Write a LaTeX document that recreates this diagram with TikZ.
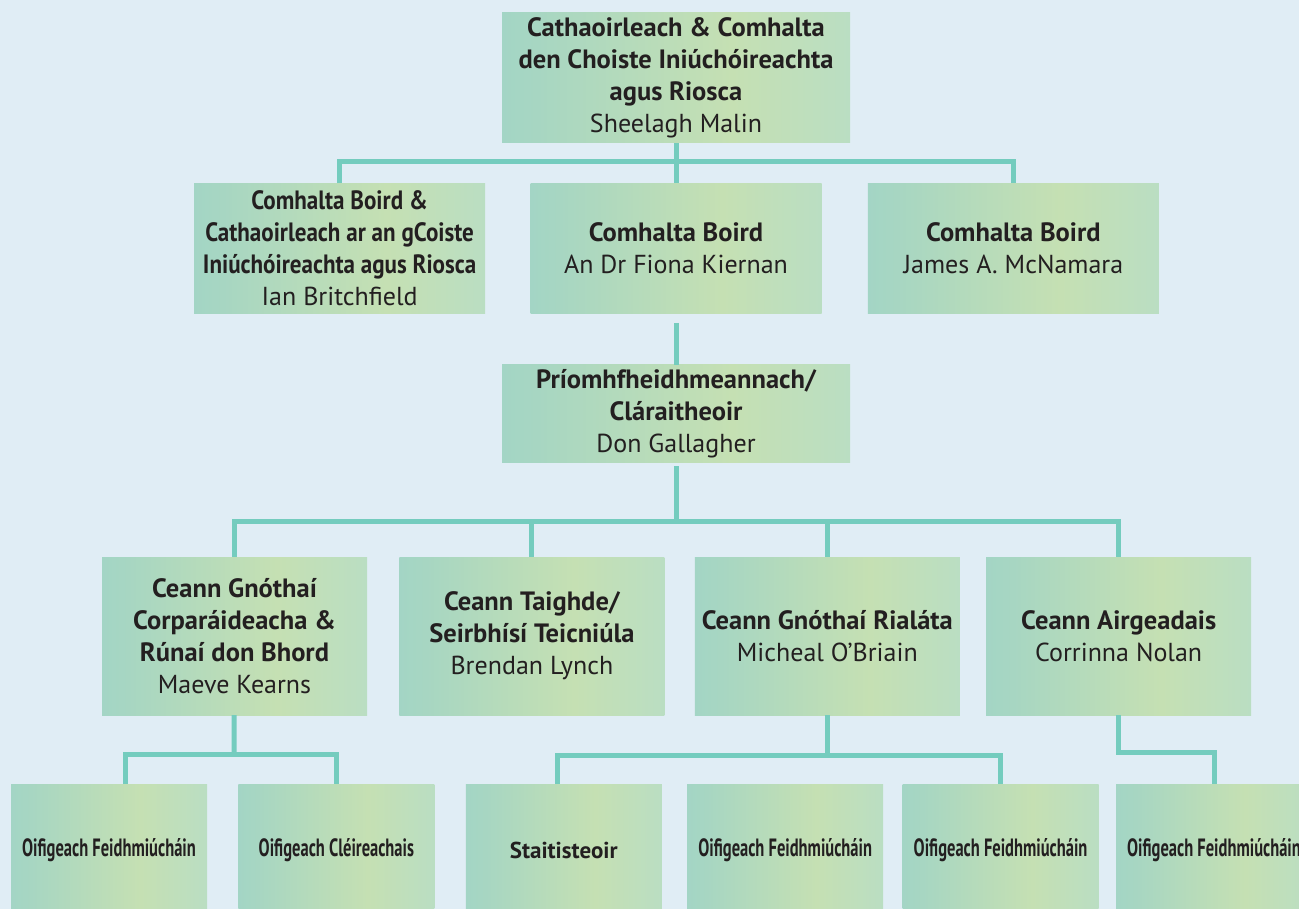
\documentclass[tikz,border=0pt]{standalone}
\usepackage{fontspec}
\setmainfont{PT Sans}
\newfontfamily\condfont[FakeStretch=0.87]{PT Sans}
\newfontfamily\narrowfont[FakeStretch=0.66]{PT Sans}
\usetikzlibrary{
    positioning % For relative positioning (right=of ...)
}
\definecolor{pagebg}{HTML}{E0EDF5}
\definecolor{linkc}{HTML}{74CCBE}
\definecolor{inkc}{HTML}{231F20}
\definecolor{shadeA}{HTML}{90D2D4}
\definecolor{shadeB}{HTML}{A7D6C2}
\definecolor{shadeC}{HTML}{C5E0B3}
\definecolor{shadeD}{HTML}{AADBD9}
\pgfdeclarehorizontalshading{orgshade}{100bp}{color(0bp)=(shadeA); color(30bp)=(shadeB); color(58bp)=(shadeC); color(100bp)=(shadeD)}
\newcommand{\role}[1]{{\fontsize{26.5}{32}\selectfont\bfseries #1}}
\newcommand{\rolecond}[1]{{\condfont\fontsize{26.5}{32}\selectfont\bfseries #1}}
\newcommand{\officer}[1]{{\narrowfont\fontsize{25}{30}\selectfont\bfseries #1}}
\newcommand{\officerwide}[1]{{\fontsize{23}{28}\selectfont\bfseries #1}}

\begin{document}
\begin{tikzpicture}[
    x=1pt, y=1pt,
    % Define styles
    orgbox/.style={rectangle, shading=orgshade, text=inkc, align=center, inner sep=0pt, font=\fontsize{26}{32}\selectfont}, % Shaded role box
    bigbox/.style={orgbox, minimum width=348pt}, % Chair and CEO
    boardbox/.style={orgbox, minimum width=291pt, minimum height=130pt}, % Board members
    headbox/.style={orgbox, minimum width=265pt, minimum height=158pt}, % Heads of unit
    staffbox/.style={orgbox, minimum width=196pt, minimum height=132pt}, % Officers
    link/.style={draw=linkc, line width=5pt} % Connector lines
]
\path[use as bounding box] (0,0) rectangle (1299,-909);
\clip (0,0) rectangle (1299,-909);
\fill[pagebg] (0,0) rectangle (1299,-909);

% ----- BOARD -----
\node (chair) [bigbox, minimum height=130pt] at (676,-78) {\role{Cathaoirleach \& Comhalta}\\\role{den Choiste Iniúchóireachta}\\\role{agus Riosca}\\Sheelagh Malin};
\node (board2) [boardbox, below=40pt of chair] {\role{Comhalta Boird}\\An Dr Fiona Kiernan};
\node (board1) [boardbox, left=45pt of board2] {\rolecond{Comhalta Boird \&}\\\rolecond{Cathaoirleach ar an gCoiste}\\\rolecond{Iniúchóireachta agus Riosca}\\Ian Britchfield};
\node (board3) [boardbox, right=46pt of board2] {\role{Comhalta Boird}\\James A. McNamara};

% ----- EXECUTIVE -----
\node (ceo) [bigbox, minimum height=98pt, below=51pt of board2] {\role{Príomhfheidhmeannach/}\\\role{Cláraitheoir}\\Don Gallagher};

% ----- HEADS -----
\node (corp) [headbox] at (234.5,-636) {\role{Ceann Gnóthaí}\\\role{Corparáideacha \&}\\\role{Rúnaí don Bhord}\\Maeve Kearns};
\node (research) [headbox, right=32pt of corp] {\role{Ceann Taighde/}\\\role{Seirbhísí Teicniúla}\\Brendan Lynch};
\node (regul) [headbox, right=30pt of research] {\role{Ceann Gnóthaí Rialáta}\\Micheal O’Briain};
\node (finance) [headbox, right=26pt of regul] {\role{Ceann Airgeadais}\\Corrinna Nolan};

% ----- OFFICERS -----
\node (off1) [staffbox] at (109,-850) {\officer{Oifigeach Feidhmiúcháin}};
\node (off2) [staffbox, right=31pt of off1] {\officer{Oifigeach Cléireachais}};
\node (stat) [staffbox, right=31pt of off2] {\officerwide{Staitisteoir}};
\node (off4) [staffbox, right=25pt of stat] {\officer{Oifigeach Feidhmiúcháin}};
\node (off5) [staffbox, right=19pt of off4] {\officer{Oifigeach Feidhmiúcháin}};
\node (off6) [staffbox, right=17pt of off5] {\officer{Oifigeach Feidhmiúcháin}};

% bus lines
\coordinate (busA) at (676,-162);
\coordinate (gapA) at (676,-323);
\coordinate (busB) at (676,-521);
\coordinate (busC) at (234,-754);
\coordinate (busD) at (826,-755);

% Draw connectors
\draw [link] (chair) -- (board2);
\draw [link] (board1.north) |- (busA) -| (board3.north);
\draw [link] (gapA) -- (ceo);
\draw [link] ([yshift=-3pt]ceo.south) -- (busB);
\draw [link] (corp.north) |- (busB) -| (finance.north);
\draw [link] (research) -- (research |- busB);
\draw [link] (regul) -- (regul |- busB);
\draw [link] (corp) -- (busC);
\draw [link] ([xshift=16pt]off1.north) |- (busC) -| (off2.north);
\draw [link] (regul.south) -- (regul.south |- busD);
\draw [link] ([xshift=-6pt]stat.north) |- (busD) -| (off5.north);
\draw [link] (finance.south) -- ++(0,-37) -| (off6.north);

\end{tikzpicture}
\end{document}
